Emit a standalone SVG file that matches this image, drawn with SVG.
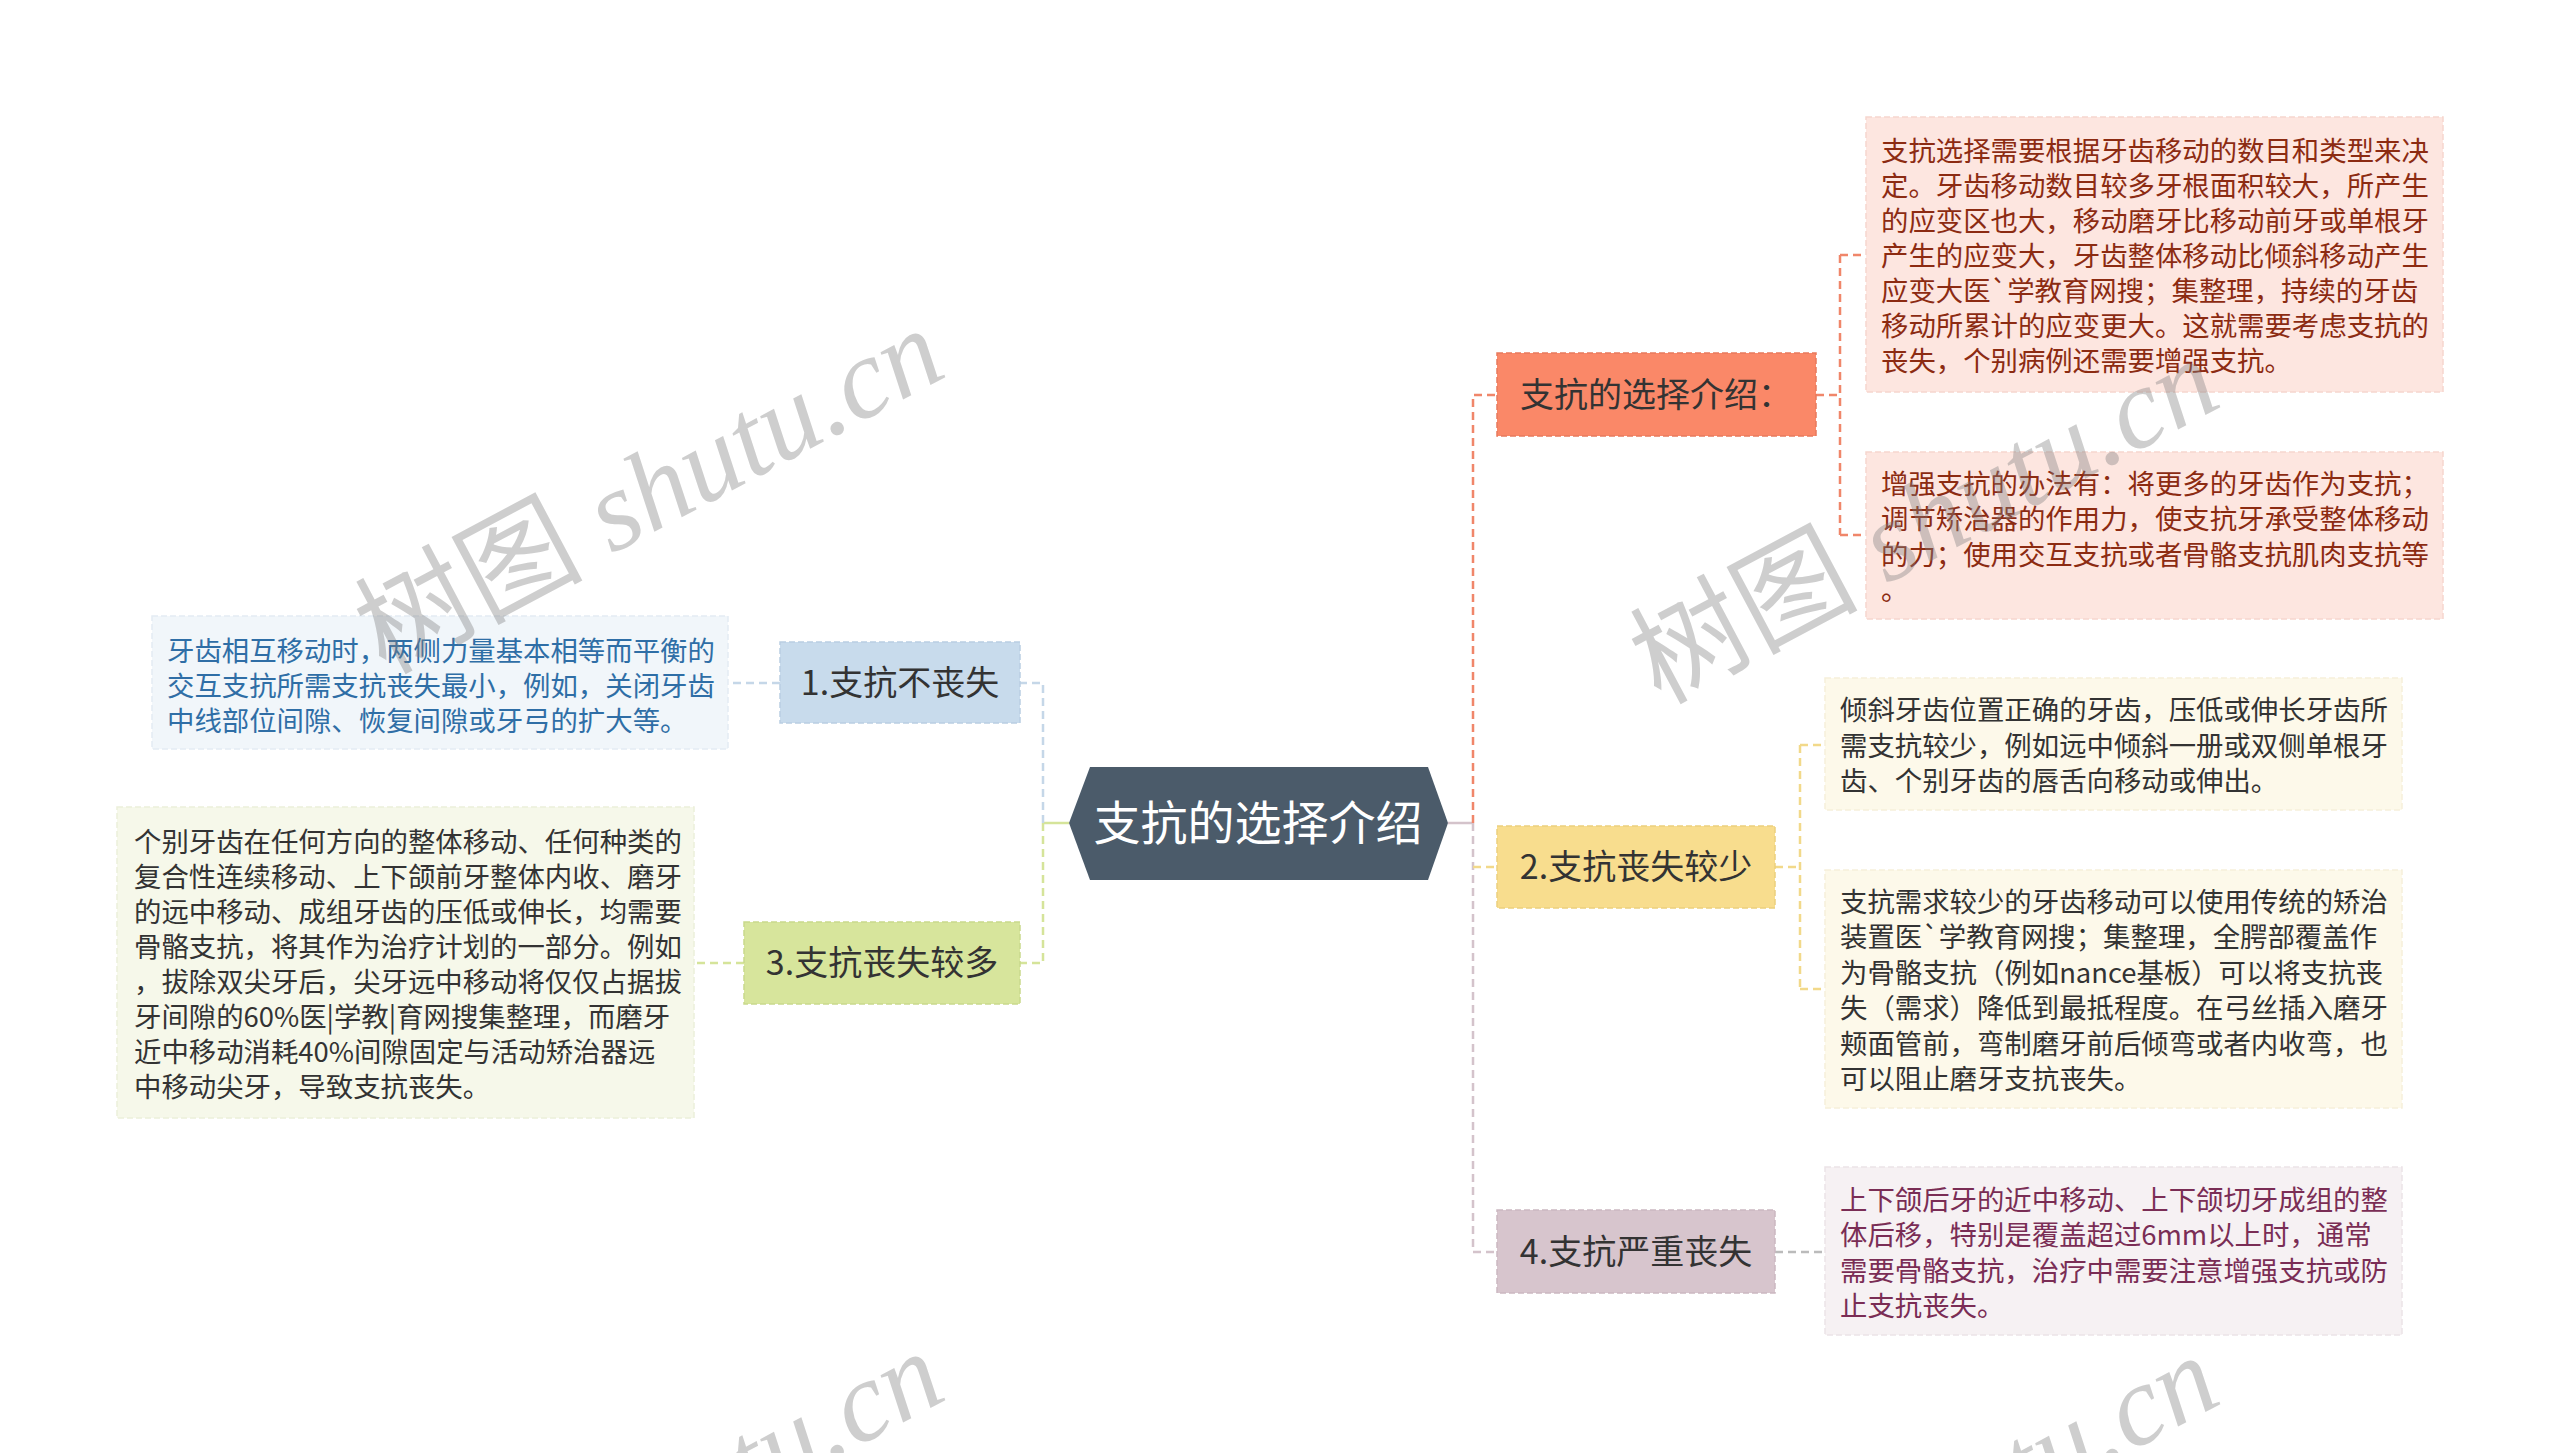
<svg xmlns="http://www.w3.org/2000/svg" width="2560" height="1453" viewBox="0 0 2560 1453">
<style>
.t{font-family:"Noto Sans CJK SC","Noto Sans",sans-serif;}
.leaf{font-size:27.4px;}
.node{font-size:34px;fill:#333333;text-anchor:middle;}
.c{fill:none;stroke-width:2.5;stroke-dasharray:8 5;}
.wm{font-family:"Liberation Serif","Noto Sans CJK SC",serif;font-size:114px;fill:#808080;opacity:0.38;}
</style>
<rect x="0" y="0" width="2560" height="1453" fill="#ffffff"/>

<g id="connectors">
  <path d="M1448 823 H1473" fill="none" stroke="#d4c3cb" stroke-width="2.5"/>
  <path class="c" d="M1473 823 V395 H1497" stroke="#f0866a"/>
  <path class="c" d="M1473 823 V1252 H1497" stroke="#d4c3cb"/>
  <path class="c" d="M1473 867 H1497" stroke="#f2d98a"/>
  <path d="M1069 823 H1043" fill="none" stroke="#d5e49a" stroke-width="2.5"/>
  <path class="c" d="M1043 823 V683 H1020" stroke="#c5d7e8"/>
  <path class="c" d="M1043 823 V963 H1020" stroke="#d5e49a"/>
  <path class="c" d="M780 683 H728" stroke="#c5d7e8"/>
  <path class="c" d="M744 963 H694" stroke="#d5e49a"/>
  <path class="c" d="M1816 395 H1840 M1840 255 V535 M1840 255 H1866 M1840 535 H1866" stroke="#f0866a"/>
  <path class="c" d="M1775 867 H1800 M1800 745 V989 M1800 745 H1825 M1800 989 H1825" stroke="#f2d98a"/>
  <path class="c" d="M1775 1252 H1825" stroke="#bbbbbb"/>
</g>

<g id="center">
  <polygon points="1069,823 1090,767 1428,767 1448,823 1428,880 1090,880" fill="#4b5b6a"/>
  <text class="t" x="1258" y="840" font-size="47" fill="#ffffff" text-anchor="middle">支抗的选择介绍</text>
</g>

<g id="node-intro">
  <rect x="1497" y="353" width="319" height="83" fill="#fa8868" stroke="#e87a5c" stroke-width="1.5" stroke-dasharray="6 3"/>
  <text class="t node" x="1656" y="407">支抗的选择介绍：</text>
</g>
<g id="node-2">
  <rect x="1497" y="826" width="278" height="82" fill="#f8dd8e" stroke="#ecd07e" stroke-width="1.5" stroke-dasharray="6 3"/>
  <text class="t node" x="1636" y="879">2.支抗丧失较少</text>
</g>
<g id="node-4">
  <rect x="1497" y="1210" width="278" height="83" fill="#d7c5cd" stroke="#cbb8c1" stroke-width="1.5" stroke-dasharray="6 3"/>
  <text class="t node" x="1636" y="1264">4.支抗严重丧失</text>
</g>
<g id="node-1">
  <rect x="780" y="642" width="240" height="81" fill="#c8dbec" stroke="#b9cee2" stroke-width="1.5" stroke-dasharray="6 3"/>
  <text class="t node" x="900" y="695">1.支抗不丧失</text>
</g>
<g id="node-3">
  <rect x="744" y="922" width="276" height="82" fill="#d7e59c" stroke="#c9d98c" stroke-width="1.5" stroke-dasharray="6 3"/>
  <text class="t node" x="882" y="975">3.支抗丧失较多</text>
</g>

<g id="leaf-a">
  <rect x="1866" y="117" width="577" height="275" fill="#fde6e0" stroke="#f6d6ce" stroke-width="1.5" stroke-dasharray="6 3"/>
  <text class="t leaf" fill="#8c2b12">
    <tspan x="1881" y="161">支抗选择需要根据牙齿移动的数目和类型来决</tspan>
    <tspan x="1881" y="196">定。牙齿移动数目较多牙根面积较大，所产生</tspan>
    <tspan x="1881" y="231">的应变区也大，移动磨牙比移动前牙或单根牙</tspan>
    <tspan x="1881" y="266">产生的应变大，牙齿整体移动比倾斜移动产生</tspan>
    <tspan x="1881" y="301">应变大医`学教育网搜；集整理，持续的牙齿</tspan>
    <tspan x="1881" y="336">移动所累计的应变更大。这就需要考虑支抗的</tspan>
    <tspan x="1881" y="371">丧失，个别病例还需要增强支抗。</tspan>
  </text>
</g>
<g id="leaf-b">
  <rect x="1866" y="452" width="577" height="167" fill="#fde6e0" stroke="#f6d6ce" stroke-width="1.5" stroke-dasharray="6 3"/>
  <text class="t leaf" fill="#8c2b12">
    <tspan x="1881" y="494">增强支抗的办法有：将更多的牙齿作为支抗；</tspan>
    <tspan x="1881" y="529">调节矫治器的作用力，使支抗牙承受整体移动</tspan>
    <tspan x="1881" y="565">的力；使用交互支抗或者骨骼支抗肌肉支抗等</tspan>
    <tspan x="1881" y="600">。</tspan>
  </text>
</g>
<g id="leaf-e">
  <rect x="1825" y="678" width="577" height="132" fill="#fdf9ea" stroke="#f6f0da" stroke-width="1.5" stroke-dasharray="6 3"/>
  <text class="t leaf" fill="#333333">
    <tspan x="1840" y="720">倾斜牙齿位置正确的牙齿，压低或伸长牙齿所</tspan>
    <tspan x="1840" y="756">需支抗较少，例如远中倾斜一册或双侧单根牙</tspan>
    <tspan x="1840" y="791">齿、个别牙齿的唇舌向移动或伸出。</tspan>
  </text>
</g>
<g id="leaf-f">
  <rect x="1825" y="870" width="577" height="238" fill="#fdf9ea" stroke="#f6f0da" stroke-width="1.5" stroke-dasharray="6 3"/>
  <text class="t leaf" fill="#333333">
    <tspan x="1840" y="912">支抗需求较少的牙齿移动可以使用传统的矫治</tspan>
    <tspan x="1840" y="947">装置医`学教育网搜；集整理，全腭部覆盖作</tspan>
    <tspan x="1840" y="983">为骨骼支抗（例如nance基板）可以将支抗丧</tspan>
    <tspan x="1840" y="1018">失（需求）降低到最抵程度。在弓丝插入磨牙</tspan>
    <tspan x="1840" y="1054">颊面管前，弯制磨牙前后倾弯或者内收弯，也</tspan>
    <tspan x="1840" y="1089">可以阻止磨牙支抗丧失。</tspan>
  </text>
</g>
<g id="leaf-g">
  <rect x="1825" y="1167" width="577" height="168" fill="#f6f1f3" stroke="#ece3e7" stroke-width="1.5" stroke-dasharray="6 3"/>
  <text class="t leaf" fill="#7a2d55">
    <tspan x="1840" y="1210">上下颌后牙的近中移动、上下颌切牙成组的整</tspan>
    <tspan x="1840" y="1245">体后移，特别是覆盖超过6mm以上时，通常</tspan>
    <tspan x="1840" y="1281">需要骨骼支抗，治疗中需要注意增强支抗或防</tspan>
    <tspan x="1840" y="1316">止支抗丧失。</tspan>
  </text>
</g>
<g id="leaf-c">
  <rect x="152" y="616" width="576" height="133" fill="#f1f6fa" stroke="#e4ecf3" stroke-width="1.5" stroke-dasharray="6 3"/>
  <text class="t leaf" fill="#2f6ea6">
    <tspan x="167" y="661">牙齿相互移动时，两侧力量基本相等而平衡的</tspan>
    <tspan x="167" y="696">交互支抗所需支抗丧失最小，例如，关闭牙齿</tspan>
    <tspan x="167" y="731">中线部位间隙、恢复间隙或牙弓的扩大等。</tspan>
  </text>
</g>
<g id="leaf-d">
  <rect x="117" y="807" width="577" height="311" fill="#f6f8ea" stroke="#ecf0da" stroke-width="1.5" stroke-dasharray="6 3"/>
  <text class="t leaf" fill="#333333">
    <tspan x="134" y="852">个别牙齿在任何方向的整体移动、任何种类的</tspan>
    <tspan x="134" y="887">复合性连续移动、上下颌前牙整体内收、磨牙</tspan>
    <tspan x="134" y="922">的远中移动、成组牙齿的压低或伸长，均需要</tspan>
    <tspan x="134" y="957">骨骼支抗，将其作为治疗计划的一部分。例如</tspan>
    <tspan x="134" y="992">，拔除双尖牙后，尖牙远中移动将仅仅占据拔</tspan>
    <tspan x="134" y="1027">牙间隙的60%医|学教|育网搜集整理，而磨牙</tspan>
    <tspan x="134" y="1062">近中移动消耗40%间隙固定与活动矫治器远</tspan>
    <tspan x="134" y="1097">中移动尖牙，导致支抗丧失。</tspan>
  </text>
</g>

<g id="watermarks">
  <text class="wm" transform="translate(385,675) rotate(-28)">树图 <tspan font-style="italic">shutu.cn</tspan></text>
  <text class="wm" transform="translate(1660,705) rotate(-28)">树图 <tspan font-style="italic">shutu.cn</tspan></text>
  <text class="wm" transform="translate(385,1698) rotate(-28)">树图 <tspan font-style="italic">shutu.cn</tspan></text>
  <text class="wm" transform="translate(1660,1702) rotate(-28)">树图 <tspan font-style="italic">shutu.cn</tspan></text>
</g>
</svg>
